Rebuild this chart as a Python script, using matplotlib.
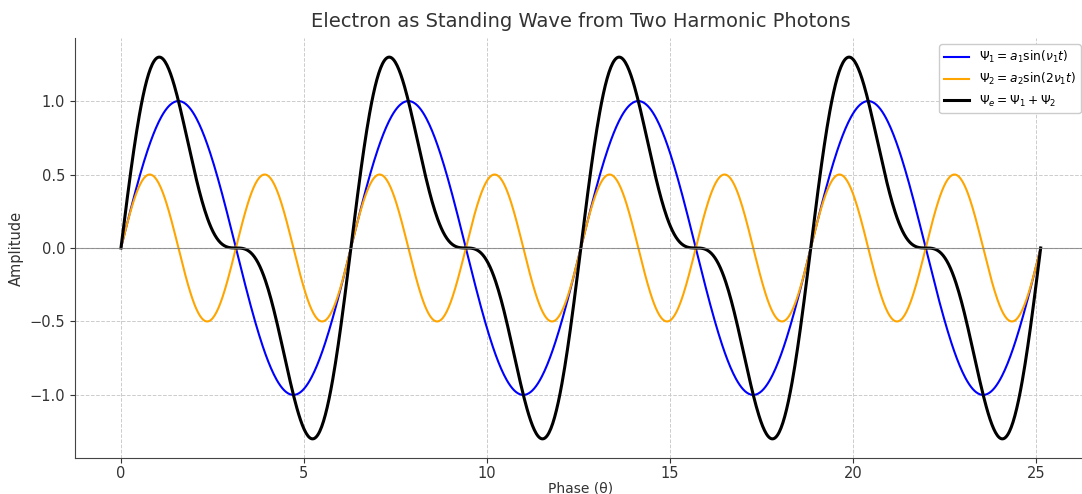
import numpy as np
import matplotlib
matplotlib.use('Agg')
import matplotlib.pyplot as plt

# Parameters
a1 = 1.0          # amplitude of first photon
a2 = 0.5          # amplitude of second photon
nu1 = 1.0         # base frequency
n_cycles = 4      # full periods shown
theta = np.linspace(0, n_cycles * 2 * np.pi, 1000)

psi1 = a1 * np.sin(nu1 * theta)
psi2 = a2 * np.sin(2 * nu1 * theta)
psi_e = psi1 + psi2

x_ticks = [0, 5, 10, 15, 20, 25]
y_ticks = [-1.0, -0.5, 0.0, 0.5, 1.0]

text_color = '#333333'

fig = plt.figure(figsize=(10.82, 4.94), dpi=100)
ax = fig.add_axes([0.0693, 0.073, 0.935, 0.85])

ax.plot(theta, psi1, color='blue', linewidth=1.5, label=r'$\Psi_1 = a_1 \sin(\nu_1 t)$')
ax.plot(theta, psi2, color='orange', linewidth=1.5, label=r'$\Psi_2 = a_2 \sin(2\nu_1 t)$')
ax.plot(theta, psi_e, color='black', linewidth=2.2, label=r'$\Psi_e = \Psi_1 + \Psi_2$')
ax.axhline(0, color='gray', linewidth=0.8, alpha=0.8)

ax.set_xticks(x_ticks)
ax.set_yticks(y_ticks)
ax.grid(True, linestyle='--', color='#cccccc', linewidth=0.7)
for side in ['top', 'right']:
    ax.spines[side].set_visible(False)
for side in ['left', 'bottom']:
    ax.spines[side].set_color('#444444')
ax.tick_params(colors=text_color, labelsize=10.5)
ax.tick_params(axis='x', pad=2)

ax.set_title('Electron as Standing Wave from Two Harmonic Photons', fontsize=14, color=text_color, pad=8)
ax.set_xlabel('Phase (θ)', fontsize=10, color=text_color, labelpad=1)
ax.set_ylabel('Amplitude', fontsize=10.5, color=text_color)
ax.legend(loc='upper right', fontsize=8.8, framealpha=1.0, bbox_to_anchor=(1.0, 1.0))

fig.savefig('out.png', dpi=100)
